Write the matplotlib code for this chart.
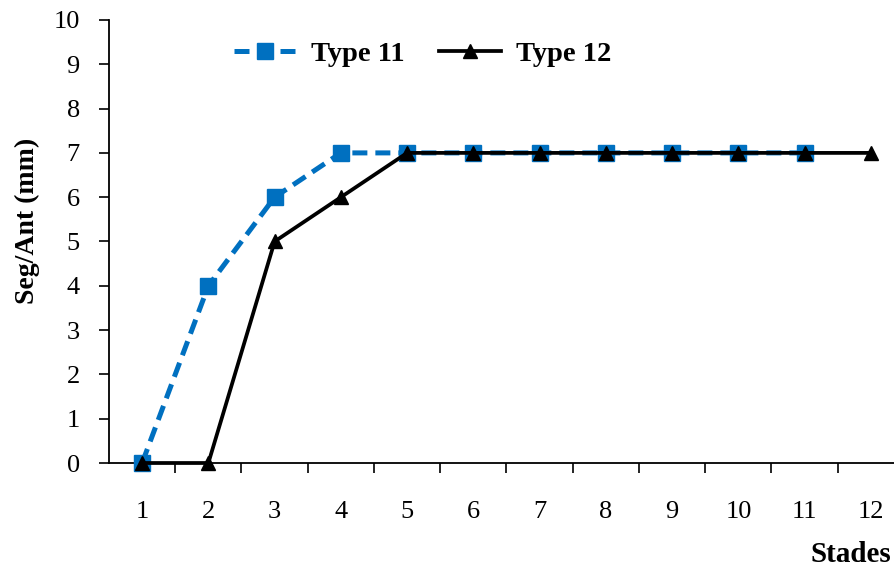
import matplotlib.pyplot as plt
from matplotlib.ticker import FixedLocator

stades = [1, 2, 3, 4, 5, 6, 7, 8, 9, 10, 11, 12]
type11 = [0, 4, 6, 7, 7, 7, 7, 7, 7, 7, 7]
type12 = [0, 0, 5, 6, 7, 7, 7, 7, 7, 7, 7, 7]

plt.rcParams['font.family'] = ['Liberation Serif', 'DejaVu Serif']

fig = plt.figure(figsize=(8.95, 5.7), dpi=100)
ax = fig.add_axes([109 / 895, 1 - 463 / 570, 795 / 895, 443 / 570])

ax.plot(stades[:len(type11)], type11, color='#0070C0', linestyle=(0, (3, 1.6)),
        linewidth=3.6, marker='s', markersize=11, label='Type 11', zorder=3,
        clip_on=False)
ax.plot(stades, type12, color='black', linewidth=2.7, marker='^',
        markersize=9.5, label='Type 12', zorder=4, clip_on=False)

ax.set_ylim(0, 10)
ax.set_xlim(0.5, 12.5)
ax.set_yticks(range(0, 11))
ax.tick_params(axis='y', direction='out', length=7, width=1.2, labelsize=19, pad=14)

ax.xaxis.set_major_locator(FixedLocator([s + 0.5 for s in stades]))
ax.xaxis.set_minor_locator(FixedLocator(stades))
ax.set_xticklabels([])
ax.set_xticklabels([str(s) for s in stades], minor=True)
ax.tick_params(axis='x', which='major', direction='out', length=7, width=1.2)
ax.tick_params(axis='x', which='minor', length=0, labelsize=19, pad=27)

for side in ['top', 'right']:
    ax.spines[side].set_visible(False)
for side in ['left', 'bottom']:
    ax.spines[side].set_linewidth(1.3)
ax.spines['bottom'].set_clip_on(False)

fig.text(27 / 895, 1 - 221 / 570, 'Seg/Ant (mm)', rotation=90, ha='center',
         va='center', fontsize=20, fontweight='bold')
fig.text(891 / 895, 1 - 554 / 570, 'Stades', ha='right', va='center',
         fontsize=21, fontweight='bold')

leg = ax.legend(loc='upper left', bbox_to_anchor=(0.125, 1.01), ncol=2,
                frameon=False, prop={'size': 20.5, 'weight': 'bold'},
                handlelength=2.2, columnspacing=1.2, handletextpad=0.5)

fig.savefig('out.png', dpi=100)
